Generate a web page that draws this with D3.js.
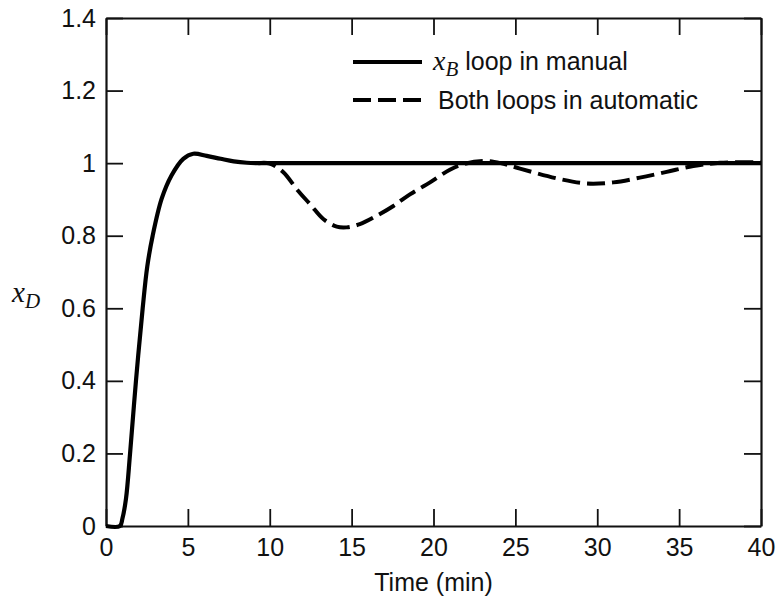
<!DOCTYPE html>
<html>
<head>
<meta charset="utf-8">
<script src="https://cdn.jsdelivr.net/npm/d3@7"></script>
<style>
  body { margin: 0; background: #fff; }
  text { font-family: "Liberation Sans", Arial, sans-serif; fill: #111; }
</style>
</head>
<body>
<div id="chart"></div>
<script>
// values
var xTicks = [0, 5, 10, 15, 20, 25, 30, 35, 40];
var yTicks = [0, 0.2, 0.4, 0.6, 0.8, 1, 1.2, 1.4];
var yTickLabels = ["0", "0.2", "0.4", "0.6", "0.8", "1", "1.2", "1.4"];

// xB loop in manual (solid)
var manualT = [0, 0.85, 1.0, 1.22, 1.47, 1.83, 2.24, 2.52, 2.85, 3.4, 4.0, 4.72, 5.33, 6.15, 7.0, 7.8, 8.6, 9.3, 12, 40];
var manualX = [0, 0, 0.02, 0.075, 0.2, 0.4, 0.6, 0.715, 0.8, 0.902, 0.966, 1.012, 1.026, 1.02, 1.012, 1.005, 1.001, 1.0, 1.0, 1.0];

// both loops in automatic (dashed, drawn from where it leaves the solid line)
var autoT = [9.3, 10.0, 10.83, 11.65, 12.46, 13.27, 14.09, 14.7, 15.5, 16.53, 17.55, 18.56, 19.79, 21.0, 21.8, 23.05, 24.1, 25.28, 27.72, 29.36, 30.98, 32.6, 34.24, 35.87, 37.5, 40];
var autoX = [1.0, 0.999, 0.975, 0.928, 0.887, 0.846, 0.825, 0.823, 0.832, 0.855, 0.882, 0.914, 0.947, 0.982, 0.997, 1.006, 1.0, 0.985, 0.956, 0.944, 0.947, 0.96, 0.976, 0.992, 1.001, 1.002];

var svgWidth = 781, svgHeight = 599;
var margin = { top: 18, right: 20, bottom: 73, left: 106 };
var width = svgWidth - margin.left - margin.right;
var height = svgHeight - margin.top - margin.bottom;

var svg = d3.select("#chart").append("svg")
    .attr("width", svgWidth)
    .attr("height", svgHeight);

var chartGroup = svg.append("g")
    .attr("transform", `translate(${margin.left}, ${margin.top})`);

var xScale = d3.scaleLinear().domain([0, 40]).range([0, width]);
var yScale = d3.scaleLinear().domain([0, 1.4]).range([height, 0]);

var tickLen = 17;

// bottom axis with labels, ticks pointing in
chartGroup.append("g")
    .attr("class", "axis")
    .attr("transform", `translate(0, ${height})`)
    .call(d3.axisBottom(xScale).tickValues(xTicks).tickSizeInner(-tickLen).tickSizeOuter(0).tickPadding(12));

chartGroup.append("g")
    .attr("class", "axis")
    .call(d3.axisLeft(yScale).tickValues(yTicks).tickSizeInner(-tickLen).tickSizeOuter(0).tickPadding(10)
        .tickFormat((d, i) => yTickLabels[i]));

// top and right: ticks only
chartGroup.append("g")
    .attr("class", "axis")
    .call(d3.axisTop(xScale).tickValues(xTicks).tickSizeInner(-tickLen).tickSizeOuter(0).tickFormat(""));

chartGroup.append("g")
    .attr("class", "axis")
    .attr("transform", `translate(${width}, 0)`)
    .call(d3.axisRight(yScale).tickValues(yTicks).tickSizeInner(-tickLen).tickSizeOuter(0).tickFormat(""));

chartGroup.selectAll(".axis path")
    .attr("stroke", "#111")
    .attr("stroke-width", 2.2);
chartGroup.selectAll(".axis line")
    .attr("stroke", "#111")
    .attr("stroke-width", 1.8);
chartGroup.selectAll(".axis text")
    .style("font-size", "25px")
    .attr("fill", "#111");

// lines
var line = d3.line()
    .x(d => xScale(d[0]))
    .y(d => yScale(d[1]))
    .curve(d3.curveCatmullRom.alpha(0.5));

chartGroup.append("path")
    .datum(d3.zip(autoT, autoX))
    .attr("d", line)
    .attr("fill", "none")
    .attr("stroke", "#000")
    .attr("stroke-width", 4)
    .attr("stroke-dasharray", "18,7");

chartGroup.append("path")
    .datum(d3.zip(manualT, manualX))
    .attr("d", line)
    .attr("fill", "none")
    .attr("stroke", "#000")
    .attr("stroke-width", 4.2)
    .attr("stroke-linejoin", "round");

// legend
var legend = svg.append("g");
legend.append("line")
    .attr("x1", 353).attr("x2", 422).attr("y1", 62).attr("y2", 62)
    .attr("stroke", "#000").attr("stroke-width", 4);
legend.append("line")
    .attr("x1", 353).attr("x2", 422).attr("y1", 100).attr("y2", 100)
    .attr("stroke", "#000").attr("stroke-width", 4).attr("stroke-dasharray", "18,7");

var l1 = legend.append("text").attr("x", 433).attr("y", 70).style("font-size", "25px");
l1.append("tspan").text("x").style("font-family", "'Liberation Serif', serif").style("font-style", "italic").style("font-size", "28px");
l1.append("tspan").text("B").attr("dy", 6).style("font-family", "'Liberation Serif', serif").style("font-style", "italic").style("font-size", "21px");
l1.append("tspan").text(" loop in manual").attr("dy", -6);

legend.append("text").attr("x", 438).attr("y", 109).style("font-size", "25px")
    .text("Both loops in automatic");

// axis titles
svg.append("text")
    .attr("x", margin.left + width / 2)
    .attr("y", 591)
    .attr("text-anchor", "middle")
    .style("font-size", "25px")
    .text("Time (min)");

var yl = svg.append("text").attr("x", 12).attr("y", 302);
yl.append("tspan").text("x").style("font-family", "'Liberation Serif', serif").style("font-style", "italic").style("font-size", "29px");
yl.append("tspan").text("D").attr("dy", 6).style("font-family", "'Liberation Serif', serif").style("font-style", "italic").style("font-size", "21px");
</script>
</body>
</html>
